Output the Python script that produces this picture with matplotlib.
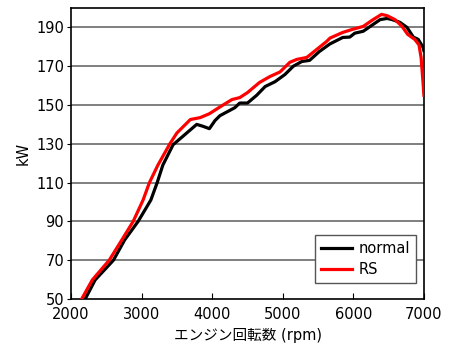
import matplotlib.pyplot as plt

plt.rcParams['font.family'] = ['DejaVu Sans', 'Noto Sans CJK JP']

# engine power curves (rpm, kW)
normal_rpm = [2200, 2340, 2600, 2760, 2950, 3130, 3220, 3300, 3445, 3640, 3780, 3870, 3960,
              4040, 4110, 4320, 4390, 4500, 4630, 4750, 4890, 5030, 5150, 5270, 5380,
              5520, 5670, 5850, 5950, 6020, 6140, 6280, 6380, 6480, 6550, 6660, 6760,
              6850, 6920, 6990, 7000]
normal_kw = [50, 59.8, 70, 80.5, 90, 101, 110, 119, 129.5, 135.6, 140, 139, 137.8,
             142, 144.5, 148.6, 151, 151, 155, 159.5, 162, 165.7, 170, 172.4, 173,
             177.6, 181.5, 184.8, 185, 187, 188, 191.5, 194, 194.6, 194, 192.6, 190,
             185, 183.8, 179.6, 178]

rs_rpm = [2150, 2300, 2540, 2720, 2880, 3020, 3110, 3230, 3400, 3500, 3690, 3830, 3960,
          4110, 4280, 4390, 4500, 4670, 4820, 4960, 5100, 5200, 5340, 5480, 5620,
          5670, 5850, 5990, 6140, 6280, 6400, 6480, 6590, 6690, 6770, 6870, 6930,
          6960, 6990, 7000]
rs_kw = [50, 59.8, 70, 80.5, 90, 101, 110, 119, 130, 135.6, 142.5, 143.5, 145.5,
         149, 152.8, 153.8, 156.4, 161.6, 164.7, 167, 172, 173.5, 174.5, 178.6, 182.7,
         184.5, 187.4, 189, 190.5, 194, 196.7, 196, 194, 190.5, 186.4, 183.8, 181,
         174.5, 160.5, 155]

yticks = [50, 70, 90, 110, 130, 150, 170, 190]
xticks = [2000, 3000, 4000, 5000, 6000, 7000]

fig = plt.figure(figsize=(4.5, 3.62), dpi=100)
ax = fig.add_axes([0.158, 0.174, 0.784, 0.804])

for y in yticks[1:]:
    ax.axhline(y, color='#6a6a6a', lw=1.2, zorder=1)

ax.plot(normal_rpm, normal_kw, color='black', lw=2.3, label='normal', zorder=3,
        solid_joinstyle='round')
ax.plot(rs_rpm, rs_kw, color='#ff0000', lw=2.3, label='RS', zorder=4,
        solid_joinstyle='round')

ax.set_xlim(2000, 7000)
ax.set_ylim(50, 200)
ax.set_xticks(xticks)
ax.set_yticks(yticks)
ax.tick_params(axis='x', direction='in', length=4, labelsize=10.5, pad=6)
ax.tick_params(axis='y', direction='out', length=3, labelsize=10.5, pad=2)
for s in ax.spines.values():
    s.set_linewidth(1.2)

ax.set_xlabel('エンジン回転数 (rpm)', fontsize=10.5, labelpad=4)
ax.set_ylabel('kW', fontsize=10.5, labelpad=4)

leg = ax.legend(loc='lower right', bbox_to_anchor=(0.977, 0.055), fancybox=False,
                framealpha=1, edgecolor='#555555', fontsize=10.5, handlelength=2.1,
                handletextpad=0.45, borderpad=0.4, labelspacing=0.45,
                borderaxespad=0)
leg.get_frame().set_linewidth(1.0)

fig.savefig('out.png', dpi=100)
